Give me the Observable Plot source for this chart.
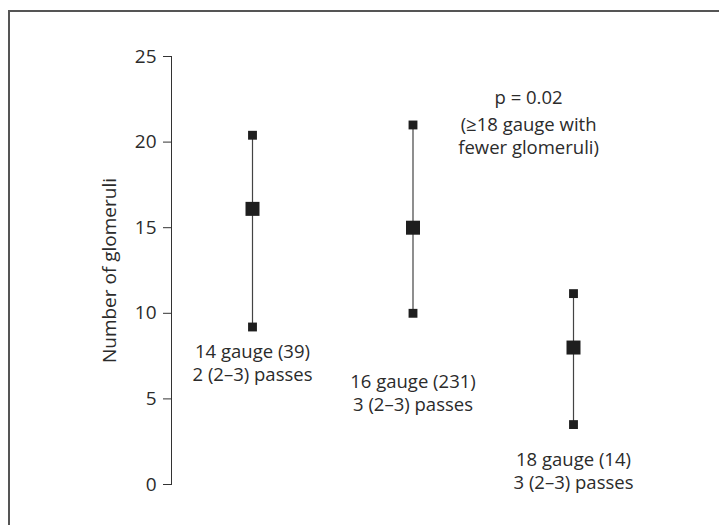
<!DOCTYPE html>
<html>
<head>
<meta charset="utf-8">
<script src="https://cdn.jsdelivr.net/npm/d3@7"></script>
<script src="https://cdn.jsdelivr.net/npm/@observablehq/plot@0.6"></script>
<style>
  html, body { margin: 0; padding: 0; background: #fff; }
  #wrap { position: relative; width: 719px; height: 525px; overflow: hidden; }
  #frame { position: absolute; left: 8px; top: 10px; width: 740px; height: 560px;
           border-top: 2px solid #555; border-left: 2px solid #555; box-sizing: border-box; }
  #chart { position: absolute; left: 0; top: 0; }
</style>
</head>
<body>
<div id="wrap"><div id="frame"></div><div id="chart"></div></div>
<script>
// Groups (needle gauge), medians and ranges of number of glomeruli
const groups = [1, 2, 3];
const gaugeLabels = ["14 gauge (39)\n2 (2–3) passes", "16 gauge (231)\n3 (2–3) passes", "18 gauge (14)\n3 (2–3) passes"];
const medians = [16.1, 15.0, 8.0];
const lows = [9.2, 10.0, 3.5];
const highs = [20.4, 21.0, 11.15];
const labelY = [7.15, 5.42, 0.86];
const yTicks = [0, 5, 10, 15, 20, 25];
const pText = "p = 0.02";
const noteText = "(≥18 gauge with\nfewer glomeruli)";
const yLabel = "Number of glomeruli";

const rows = groups.map((g, i) => ({g, med: medians[i], lo: lows[i], hi: highs[i], label: gaugeLabels[i], ly: labelY[i]}));
const ends = rows.flatMap(d => [{g: d.g, v: d.lo}, {g: d.g, v: d.hi}]);

const font = "'Open Sans', sans-serif";
const ink = "#2b2b2b";
const fs = 19;
const fsl = 18.5;

const plot = Plot.plot({
  width: 719,
  height: 525,
  marginTop: 56,
  marginBottom: 41,
  marginLeft: 171,
  marginRight: 20,
  style: {fontFamily: font, fontSize: fs + "px", color: ink, background: "transparent"},
  x: {domain: [1, 3], range: [252, 573], axis: null},
  y: {domain: [0, 25]},
  marks: [
    Plot.frame({anchor: "left", stroke: "#333", strokeWidth: 1}),
    Plot.axisY({ticks: yTicks, tickSize: 8, tickPadding: 7, label: null, stroke: "#333", fill: ink, fontSize: fs}),
    Plot.text([yLabel], {frameAnchor: "left", textAnchor: "middle", dx: -62, rotate: -90, fill: ink, fontSize: fs}),
    Plot.ruleX(rows, {x: "g", y1: "lo", y2: "hi", stroke: "#444", strokeWidth: 1.2}),
    Plot.dot(ends, {x: "g", y: "v", symbol: "square", r: 5, fill: "#1e1e1e", stroke: "none"}),
    Plot.dot(rows, {x: "g", y: "med", symbol: "square", r: 7.9, fill: "#1e1e1e", stroke: "none"}),
    Plot.text(rows, {x: "g", y: "ly", text: "label", lineAnchor: "middle", lineHeight: 1.25, fill: ink, fontSize: fsl}),
    Plot.text([pText], {x: [2.72], y: [22.55], fill: ink, fontSize: fsl}),
    Plot.text([noteText], {x: [2.72], y: [20.4], lineAnchor: "middle", lineHeight: 1.25, fill: ink, fontSize: fsl})
  ]
});
document.getElementById("chart").append(plot);
</script>
</body>
</html>
